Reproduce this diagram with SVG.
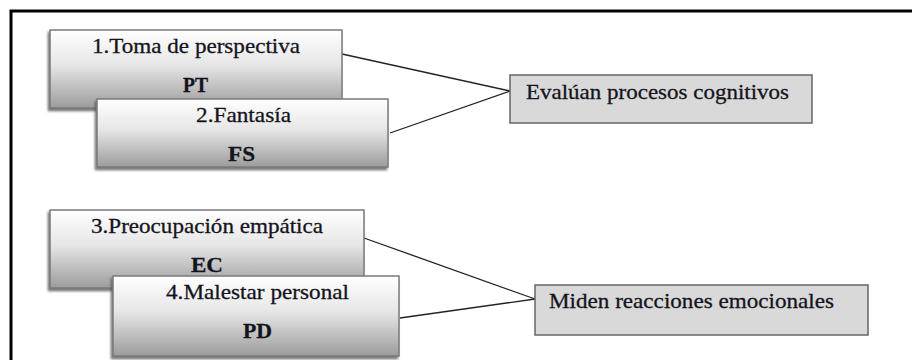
<svg xmlns="http://www.w3.org/2000/svg" width="912" height="360" viewBox="0 0 912 360">
<style>
.box{fill:url(#g);stroke:#7a7a7a;stroke-width:1.5;filter:url(#sh)}
.tgt{fill:#d9d9d9;stroke:#666;stroke-width:1.5}
.t{font-family:'Liberation Serif','Times New Roman',serif;font-size:22px;fill:#141420;stroke:#141420;stroke-width:0.3}
.c{text-anchor:middle}
.b{font-weight:bold}
.con line{stroke:#222;stroke-width:1.3}
</style>
<defs>
<linearGradient id="g" x1="0" y1="0" x2="0" y2="1">
<stop offset="0" stop-color="#ffffff"/>
<stop offset="0.45" stop-color="#e6e6e6"/>
<stop offset="1" stop-color="#9c9c9c"/>
</linearGradient>
<filter id="sh" x="-5%" y="-10%" width="110%" height="125%">
<feDropShadow dx="-1.5" dy="2.5" stdDeviation="1" flood-color="#555" flood-opacity="0.8"/>
</filter>
</defs>
<rect x="0" y="0" width="912" height="360" fill="#fff"/>
<path d="M11,362 V11 H914" fill="none" stroke="#000" stroke-width="3"/>
<g id="connectors" class="con">
<line x1="342" y1="54" x2="510" y2="91"/>
<line x1="390" y1="133" x2="510" y2="91"/>
<line x1="364" y1="238" x2="535" y2="299"/>
<line x1="400" y1="318" x2="535" y2="299"/>
</g>
<g id="n1">
<rect class="box" x="50" y="30" width="292" height="78"/>
<text class="t c" x="196" y="53" textLength="208" lengthAdjust="spacingAndGlyphs">1.Toma de perspectiva</text>
<text class="t c b" x="195.5" y="92" textLength="25" lengthAdjust="spacingAndGlyphs">PT</text>
</g>
<g id="n2">
<rect class="box" x="97" y="99" width="291" height="68"/>
<text class="t c" x="243.5" y="122" textLength="95" lengthAdjust="spacingAndGlyphs">2.Fantasía</text>
<text class="t c b" x="241.5" y="161" textLength="27" lengthAdjust="spacingAndGlyphs">FS</text>
</g>
<g id="n3">
<rect class="tgt" x="510" y="75" width="302" height="48"/>
<text class="t" x="526" y="99" textLength="263" lengthAdjust="spacingAndGlyphs">Evalúan procesos cognitivos</text>
</g>
<g id="n4">
<rect class="box" x="50" y="210" width="314" height="78"/>
<text class="t c" x="207" y="233" textLength="232" lengthAdjust="spacingAndGlyphs">3.Preocupación empática</text>
<text class="t c b" x="207" y="272" textLength="32" lengthAdjust="spacingAndGlyphs">EC</text>
</g>
<g id="n5">
<rect class="box" x="113" y="276" width="286" height="80"/>
<text class="t c" x="257.5" y="299" textLength="183" lengthAdjust="spacingAndGlyphs">4.Malestar personal</text>
<text class="t c b" x="257.5" y="338" textLength="29" lengthAdjust="spacingAndGlyphs">PD</text>
</g>
<g id="n6">
<rect class="tgt" x="535" y="285" width="333" height="50"/>
<text class="t" x="549" y="308" textLength="285" lengthAdjust="spacingAndGlyphs">Miden reacciones emocionales</text>
</g>
</svg>
